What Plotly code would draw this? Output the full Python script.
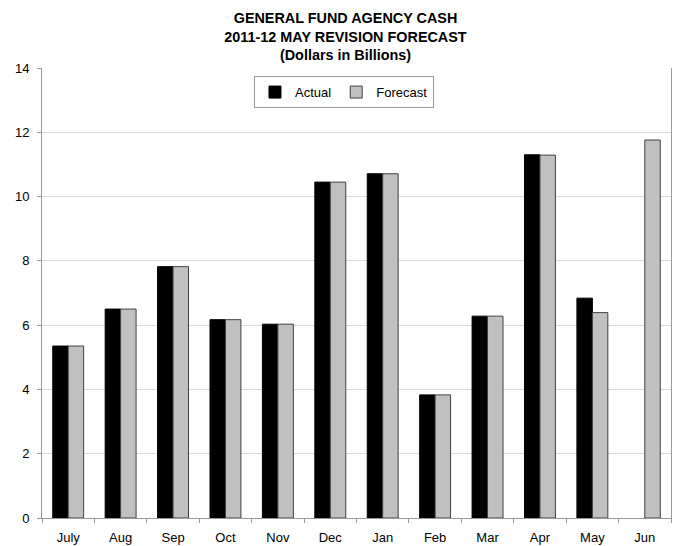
import plotly.graph_objects as go

months = ["July", "Aug", "Sep", "Oct", "Nov", "Dec", "Jan", "Feb", "Mar", "Apr", "May", "Jun"]
actual = [5.35, 6.50, 7.82, 6.17, 6.03, 10.45, 10.71, 3.83, 6.28, 11.30, 6.84, None]
forecast = [5.35, 6.50, 7.82, 6.17, 6.03, 10.45, 10.71, 3.83, 6.28, 11.29, 6.39, 11.76]
y_ticks = [0, 2, 4, 6, 8, 10, 12, 14]

fig = go.Figure()
fig.add_trace(go.Bar(
    x=months, y=actual, name="Actual",
    marker=dict(color="#000000", line=dict(color="#000000", width=1)),
))
fig.add_trace(go.Bar(
    x=months, y=forecast, name="Forecast",
    marker=dict(color="#C0C0C0", line=dict(color="#404040", width=1)),
))

fig.update_layout(
    width=675, height=538,
    margin=dict(l=34, r=12, t=60, b=28),
    paper_bgcolor="white", plot_bgcolor="white",
    font=dict(family="Liberation Sans, Arial, sans-serif", size=13, color="#000000"),
    title=dict(
        text="<b>GENERAL FUND AGENCY CASH<br>2011-12 MAY REVISION FORECAST<br>(Dollars in Billions)</b>",
        x=0.5, xanchor="center", xref="container",
        y=1 - 15 / 538, yanchor="middle", yref="container",
        font=dict(size=14.4, family="Liberation Sans, Arial, sans-serif"),
    ),
    barmode="group", bargap=0.41, bargroupgap=0,
    legend=dict(
        orientation="h", x=0.337, xanchor="left", y=0.982, yanchor="top",
        bordercolor="#999999", borderwidth=1, bgcolor="white",
        font=dict(size=13), itemwidth=30,
    ),
    showlegend=True,
)
fig.update_xaxes(
    showgrid=False, showline=True, linecolor="#999999", linewidth=1,
    ticks="outside", tickson="boundaries", ticklen=4, tickcolor="#999999",
    tickfont=dict(size=13), ticklabelstandoff=7, automargin=False,
)
fig.update_yaxes(
    range=[0, 14], tickvals=y_ticks, showgrid=True, gridcolor="#d9d9d9",
    showline=True, linecolor="#999999", linewidth=1, mirror=True,
    ticks="outside", ticklen=4, tickcolor="#999999", zeroline=False,
    tickfont=dict(size=13), ticklabelstandoff=5, automargin=False,
)
fig.write_html("out.html")
